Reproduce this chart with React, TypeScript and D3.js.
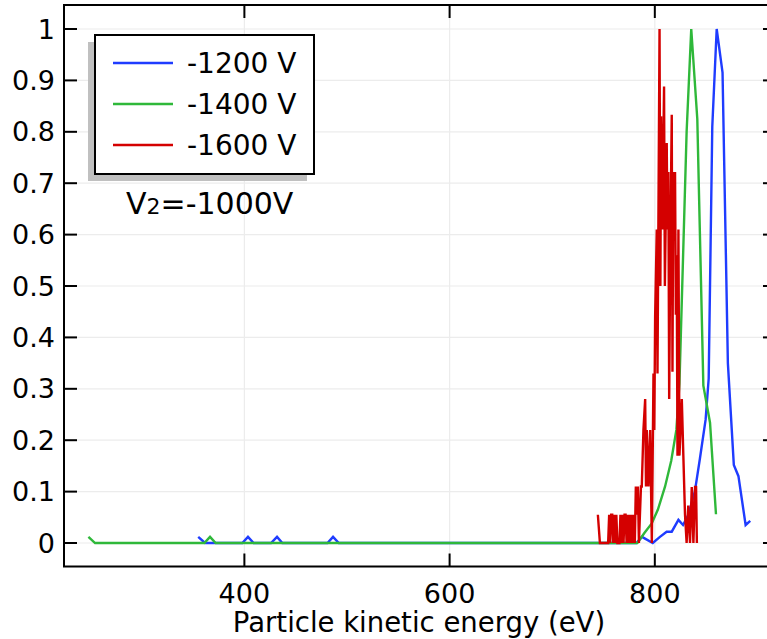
import React from "react";
import * as d3 from "d3";

const series1200: [number, number][] = [
  [355, 0.012], [361.7, 0], [398, 0], [403.5, 0.012], [409, 0], [426, 0], [431.8, 0.012], [437, 0],
  [481, 0], [486.4, 0.012], [492, 0], [782, 0], [787.5, 0.012], [798, 0], [805, 0.012], [811.5, 0.022],
  [816.5, 0.022], [823, 0.045], [827.5, 0.035], [832.5, 0.054], [839, 0.1], [844, 0.165], [849.5, 0.24],
  [852.5, 0.32], [856, 0.81], [860.3, 1.0], [866, 0.915], [871.2, 0.35], [877, 0.152], [881.5, 0.13],
  [888.5, 0.035], [893, 0.043],
];

const series1400: [number, number][] = [
  [248, 0.012], [254.5, 0], [361, 0], [366.5, 0.012], [372, 0], [783, 0], [790, 0.02], [797, 0.038],
  [803, 0.065], [810, 0.11], [816, 0.16], [821, 0.22], [824, 0.31], [831, 0.8], [835.5, 1.0],
  [841.4, 0.825], [847.3, 0.306], [853.8, 0.234], [859.6, 0.056],
];

const series1600: [number, number][] = [
  [744.5, 0.055], [746.5, 0], [754.5, 0], [755.5, 0.055], [756.5, 0], [757.5, 0.055], [758.5, 0.055],
  [759.5, 0], [760.5, 0.055], [761.5, 0], [762.5, 0.055], [763.5, 0], [765.5, 0], [766.5, 0.055],
  [767.5, 0], [768.5, 0.055], [769.5, 0], [770.5, 0.055], [771.5, 0.055], [772.5, 0], [773.5, 0.055],
  [774.5, 0], [775.5, 0.055], [776.5, 0], [777.5, 0.055], [778.5, 0], [779.5, 0.055], [780.5, 0],
  [781.5, 0.11], [782.5, 0.055], [783.5, 0.11], [784.5, 0], [785.5, 0.055], [786.5, 0.11],
  [787.3, 0.11], [788.9, 0.22], [790.6, 0.28], [791.4, 0.11], [792.2, 0.22], [793.8, 0.11],
  [795.5, 0.22], [797.1, 0], [798.7, 0.33], [799.5, 0.22], [800.3, 0.44], [801.9, 0.61], [802.6, 0.33],
  [803.3, 0.56], [804.6, 1.0], [805.4, 0.5], [806.1, 0.83], [807.3, 0.61], [809, 0.888], [809.8, 0.5],
  [811.6, 0.778], [812.3, 0.61], [813.2, 0.722], [814, 0.28], [815, 0.56], [816.5, 0.833], [817.2, 0.333],
  [818, 0.722], [818.8, 0.61], [819.7, 0.722], [820.5, 0.444], [821.3, 0.56], [822.1, 0.17],
  [823, 0.61], [824, 0.17], [826.3, 0.28], [827.8, 0.17], [829.4, 0.056], [831, 0], [832.6, 0.073],
  [834.3, 0], [836, 0.109], [837.6, 0], [839.2, 0.109], [840.2, 0.109], [841, 0],
];

const seriesList = [
  { name: "-1200 V", color: "#1f3cff", data: series1200 },
  { name: "-1400 V", color: "#2fb83a", data: series1400 },
  { name: "-1600 V", color: "#d40000", data: series1600 },
];

const yTicks = [0, 0.1, 0.2, 0.3, 0.4, 0.5, 0.6, 0.7, 0.8, 0.9, 1];
const xTicks = [400, 600, 800];
const xTitle = "Particle kinetic energy (eV)";

export default function App() {
  const W = 767, H = 639;
  const left = 64, right = 776, top = 5, bottom = 566.5;
  const x = d3.scaleLinear().domain([224.2, 918.1]).range([left, right]);
  const y = d3.scaleLinear().domain([-0.0457, 1.0467]).range([bottom, top]);
  const line = d3.line<[number, number]>().x((d) => x(d[0])).y((d) => y(d[1]));
  const font = "'DejaVu Sans', sans-serif";
  const tickLen = 13;
  const legendRows = [63, 104, 145];

  return (
    <svg width={W} height={H} style={{ position: "absolute", left: 0, top: 0, background: "#fff" }}>
      <defs>
        <clipPath id="plotClip">
          <rect x={left} y={top} width={right - left} height={bottom - top} />
        </clipPath>
      </defs>
      <rect x={0} y={0} width={W} height={H} fill="#fff" />
      {yTicks.map((t) => (
        <line key={"gy" + t} x1={left} x2={right} y1={y(t)} y2={y(t)} stroke="#ececec" strokeWidth={1.2} />
      ))}
      {xTicks.map((t) => (
        <line key={"gx" + t} x1={x(t)} x2={x(t)} y1={top} y2={bottom} stroke="#ececec" strokeWidth={1.2} />
      ))}
      <g clipPath="url(#plotClip)">
        {seriesList.map((s) => (
          <path key={s.name} d={line(s.data) || ""} fill="none" stroke={s.color} strokeWidth={2.4} strokeLinejoin="miter" />
        ))}
      </g>
      <rect x={left} y={top} width={right - left} height={bottom - top} fill="none" stroke="#000" strokeWidth={2} />
      {yTicks.map((t) => (
        <g key={"ty" + t}>
          <line x1={left} x2={left + tickLen} y1={y(t)} y2={y(t)} stroke="#000" strokeWidth={2} />
          <line x1={right} x2={right - tickLen} y1={y(t)} y2={y(t)} stroke="#000" strokeWidth={2} />
          <text x={55} y={y(t)} textAnchor="end" dominantBaseline="central" fontFamily={font} fontSize={27} fill="#000">
            {d3.format("~g")(t)}
          </text>
        </g>
      ))}
      {xTicks.map((t) => (
        <g key={"tx" + t}>
          <line x1={x(t)} x2={x(t)} y1={bottom} y2={bottom - tickLen} stroke="#000" strokeWidth={2} />
          <line x1={x(t)} x2={x(t)} y1={top} y2={top + tickLen} stroke="#000" strokeWidth={2} />
          <text x={x(t)} y={603} textAnchor="middle" fontFamily={font} fontSize={27} fill="#000">
            {t}
          </text>
        </g>
      ))}
      <text x={(230 + 608) / 2} y={632} textAnchor="middle" fontFamily={font} fontSize={27.5} fill="#000">
        {xTitle}
      </text>
      <rect x={88} y={42} width={219} height={139} fill="#c0c0c0" />
      <rect x={95} y={35} width={219} height={139} fill="#fff" stroke="#000" strokeWidth={2} />
      {seriesList.map((s, i) => (
        <g key={"lg" + s.name}>
          <line x1={113} x2={173} y1={legendRows[i]} y2={legendRows[i]} stroke={s.color} strokeWidth={2.5} />
          <text x={187} y={legendRows[i]} dominantBaseline="central" fontFamily={font} fontSize={28} fill="#000">
            {s.name}
          </text>
        </g>
      ))}
      <text x={126} y={214} fontFamily={font} fontSize={30} fill="#000">
        V<tspan fontSize={22}>2</tspan>=-1000V
      </text>
    </svg>
  );
}
